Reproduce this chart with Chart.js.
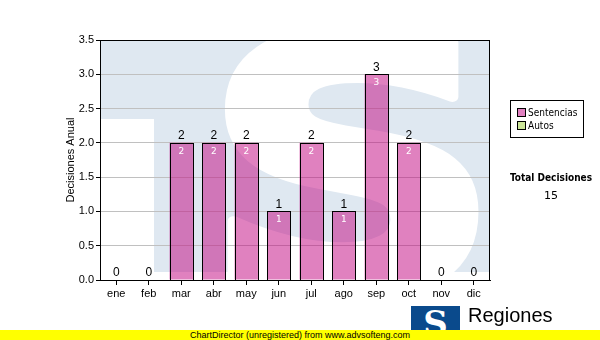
<!DOCTYPE html>
<html>
<head>
<meta charset="utf-8">
<script src="https://cdn.jsdelivr.net/npm/chart.js@4"></script>
<style>
  body { margin: 0; background: #fff; }
  #wrap { position: relative; width: 600px; height: 340px; overflow: hidden; font-family: "Liberation Sans", Arial, sans-serif; }
  #chart { position: absolute; left: 0; top: 0; }
  #legend { position: absolute; left: 510px; top: 100px; width: 72px; height: 36px; border: 1px solid #000; font: 10px "DejaVu Sans Condensed", "DejaVu Sans", sans-serif; }
  #legend div { position: absolute; left: 6px; white-space: nowrap; }
  #legend span { display: inline-block; width: 7px; height: 7px; border: 1px solid #000; margin-right: 2px; vertical-align: -1px; }
  #total { position: absolute; left: 505px; top: 172px; width: 92px; text-align: center; font: bold 10px "DejaVu Sans Condensed", "DejaVu Sans", sans-serif; }
  #totalVal { position: absolute; left: 505px; top: 189px; width: 92px; text-align: center; font: 11px "DejaVu Sans", sans-serif; }
  #logo { position: absolute; left: 411px; top: 306px; width: 49px; height: 30px; background: #0a4a8c; color: #fff; font: bold 34px "DejaVu Serif", serif; text-align: center; line-height: 34px; overflow: hidden; }
  #region { position: absolute; left: 468px; top: 304px; font: 20px "Liberation Sans", Arial, sans-serif; color: #000; }
  #bar { position: absolute; left: 0; top: 330px; width: 600px; height: 10px; background: #ffff00; font: 9px "Liberation Sans", Arial, sans-serif; line-height: 10px; }
  #bar span { position: absolute; left: 190px; top: 0; }
</style>
</head>
<body>
<div id="wrap">
  <canvas id="chart" width="600" height="340"></canvas>
  <div id="legend">
    <div style="top:6px"><span style="background:#e080c0"></span>Sentencias</div>
    <div style="top:19px"><span style="background:#cce699"></span>Autos</div>
  </div>
  <div id="total">Total Decisiones</div>
  <div id="totalVal">15</div>
  <div id="logo">S</div>
  <div id="region">Regiones</div>
  <div id="bar"><span>ChartDirector (unregistered) from www.advsofteng.com</span></div>
</div>
<script>
// Datos
const meses = ['ene', 'feb', 'mar', 'abr', 'may', 'jun', 'jul', 'ago', 'sep', 'oct', 'nov', 'dic'];
const sentencias = [0, 0, 2, 2, 2, 1, 2, 1, 3, 2, 0, 0];
const autos = [0, 0, 0, 0, 0, 0, 0, 0, 0, 0, 0, 0];

document.getElementById('totalVal').innerText =
    sentencias.reduce((a, b) => a + b, 0) + autos.reduce((a, b) => a + b, 0);

// Marca de agua y borde del 치rea del gr치fico
const fondoPlugin = {
    id: 'fondo',
    beforeDraw(chart) {
        const { ctx, chartArea: a } = chart;
        ctx.save();
        ctx.beginPath();
        ctx.rect(a.left, a.top, a.right - a.left, a.bottom - a.top);
        ctx.clip();
        ctx.fillStyle = '#dfe8f1';
        ctx.fillRect(a.left, a.top, a.right - a.left, a.bottom - a.top);
        ctx.fillStyle = '#fff';
        ctx.fillRect(a.left, 119, 54, a.bottom - 119);
        ctx.fillRect(a.left, 272, a.right - a.left, a.bottom - 272);
        ctx.translate(352, 290);
        ctx.scale(1.2, 1);
        ctx.font = 'bold 350px "DejaVu Sans"';
        ctx.textAlign = 'center';
        ctx.textBaseline = 'alphabetic';
        ctx.strokeStyle = '#fff';
        ctx.lineWidth = 10;
        ctx.lineJoin = 'round';
        ctx.fillText('S', 0, 0);
        ctx.strokeText('S', 0, 0);
        ctx.restore();
    },
    afterDraw(chart) {
        const { ctx, chartArea: a } = chart;
        ctx.save();
        ctx.strokeStyle = '#000';
        ctx.lineWidth = 1;
        ctx.strokeRect(a.left + 0.5, a.top + 0.5, a.right - a.left - 1, a.bottom - a.top);
        ctx.restore();
    }
};

// Contornos n칤tidos y etiquetas de valores
const etiquetasPlugin = {
    id: 'etiquetas',
    afterDatasetsDraw(chart) {
        const { ctx } = chart;
        const metaS = chart.getDatasetMeta(0);
        const y = chart.scales.y;
        ctx.save();
        ctx.strokeStyle = '#000';
        ctx.lineWidth = 1;
        metaS.data.forEach((bar, i) => {
            if (sentencias[i] <= 0) return;
            const x0 = Math.round(bar.x - bar.width / 2);
            const x1 = Math.round(bar.x + bar.width / 2);
            const y0 = Math.round(bar.y);
            const y1 = Math.round(bar.base);
            ctx.strokeRect(x0 + 0.5, y0 + 0.5, x1 - x0, y1 - y0);
        });
        ctx.textAlign = 'center';
        meses.forEach((m, i) => {
            const bar = metaS.data[i];
            const total = sentencias[i] + autos[i];
            ctx.fillStyle = '#000';
            ctx.font = '12px "Liberation Sans", Arial';
            ctx.textBaseline = 'bottom';
            ctx.fillText(total, bar.x, y.getPixelForValue(total) - 1);
            if (sentencias[i] > 0) {
                ctx.fillStyle = '#fff';
                ctx.font = '9px "DejaVu Sans"';
                ctx.textBaseline = 'top';
                ctx.fillText(sentencias[i], bar.x, bar.y + 4);
            }
        });
        ctx.restore();
    }
};

const ctx = document.getElementById('chart').getContext('2d');
const chart = new Chart(ctx, {
    type: 'bar',
    data: {
        labels: meses,
        datasets: [{
            label: 'Sentencias',
            data: sentencias,
            backgroundColor: 'rgba(193,3,128,0.5)',
            borderWidth: 0,
            barPercentage: 0.72,
            categoryPercentage: 1
        }, {
            label: 'Autos',
            data: autos,
            backgroundColor: '#cce699',
            borderWidth: 0,
            barPercentage: 0.72,
            categoryPercentage: 1
        }]
    },
    options: {
        responsive: false,
        animation: false,
        layout: { padding: { left: 0, top: 40, right: 110, bottom: 0 } },
        scales: {
            x: {
                stacked: true,
                afterFit: s => { s.height = 60; },
                grid: { drawOnChartArea: false, offset: false, tickLength: 5, tickColor: '#000' },
                border: { color: '#000' },
                ticks: { color: '#000', font: { family: '"Liberation Sans", Arial', size: 11 }, padding: 2 }
            },
            y: {
                stacked: true,
                min: 0,
                max: 3.5,
                afterFit: s => { s.width = 100; },
                grid: { color: '#c0c0c0', tickLength: 4, tickColor: '#000' },
                border: { color: '#000' },
                ticks: {
                    stepSize: 0.5,
                    color: '#000',
                    padding: 2,
                    font: { family: '"Liberation Sans", Arial', size: 11 },
                    callback: v => v.toFixed(1)
                },
                title: {
                    display: true,
                    text: 'Decisiones Anual',
                    color: '#000',
                    font: { family: '"Liberation Sans", Arial', size: 11 },
                    padding: { top: 64, bottom: 0 }
                }
            }
        },
        plugins: {
            legend: { display: false },
            tooltip: { enabled: false }
        }
    },
    plugins: [fondoPlugin, etiquetasPlugin]
});
</script>
</body>
</html>
